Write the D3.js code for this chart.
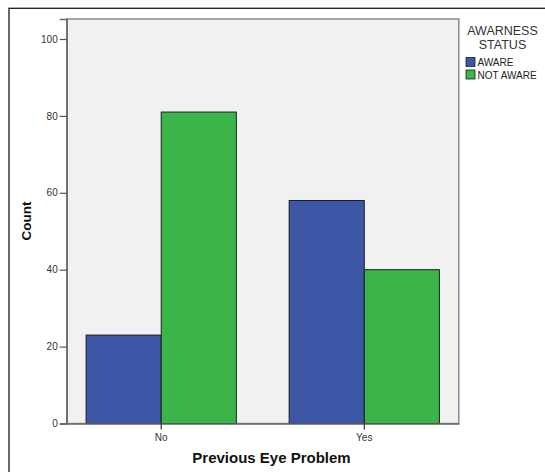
<!DOCTYPE html>
<html><head><meta charset="utf-8">
<script src="https://cdn.jsdelivr.net/npm/d3@7"></script>
<style>body{margin:0;background:#fff}svg{display:block;font-family:"Liberation Sans",Arial,sans-serif}</style>
</head><body><svg id="c" width="545" height="472"></svg>
<script>
const categories = ["No", "Yes"];
const seriesNames = ["AWARE", "NOT AWARE"];
const aware = [23, 58];
const notAware = [81, 40];
const yTicks = [0, 20, 40, 60, 80, 100];
const colors = ["#3d57a7", "#3bb54a"];

const svg = d3.select("#c");
const L = 66.7, R = 458.8, T = 19, B = 423.5;

svg.append("rect").attr("x", 9).attr("y", 8.3).attr("width", 600).attr("height", 600)
  .attr("fill", "none").attr("stroke", "#1a1a1a").attr("stroke-width", 1.3);

svg.append("rect").attr("x", L).attr("y", T).attr("width", R - L).attr("height", B - T)
  .attr("fill", "#f1f1f1").attr("stroke", "#8a8a8a").attr("stroke-width", 1.5);

const x0 = d3.scaleBand().domain(categories).range([L, R]).paddingInner(0.26).paddingOuter(0.0955);
const x1 = d3.scaleBand().domain(seriesNames).range([0, x0.bandwidth()]);
const y = d3.scaleLinear().domain([0, 105.2]).range([B, T]);

const data = categories.map((c, i) => ({cat: c, vals: [aware[i], notAware[i]]}));
const g = svg.append("g");
data.forEach(d => {
  d.vals.forEach((v, j) => {
    g.append("rect")
      .attr("x", x0(d.cat) + x1(seriesNames[j]))
      .attr("y", y(v))
      .attr("width", x1.bandwidth())
      .attr("height", y(0) - y(v))
      .attr("fill", colors[j]).attr("stroke", "#1e1e1e").attr("stroke-width", 1);
  });
});

const yAxis = svg.append("g").attr("transform", `translate(${L},0)`)
  .call(d3.axisLeft(y).tickValues(yTicks).tickSize(7).tickPadding(2));
yAxis.select(".domain").attr("stroke", "#6a6a6a").attr("stroke-width", 1.5);
yAxis.selectAll(".tick line").attr("stroke", "#555").attr("stroke-width", 1.2);
yAxis.selectAll("text").attr("font-size", 10).attr("fill", "#333").attr("font-family", "Liberation Sans, Arial");

const xAxis = svg.append("g").attr("transform", `translate(0,${B})`)
  .call(d3.axisBottom(x0).tickSize(6).tickPadding(4).tickSizeOuter(0));
xAxis.select(".domain").attr("stroke", "#6a6a6a").attr("stroke-width", 1.5);
xAxis.selectAll(".tick line").attr("stroke", "#333").attr("stroke-width", 1.2);
xAxis.selectAll("text").attr("font-size", 10).attr("fill", "#333").attr("font-family", "Liberation Sans, Arial");

svg.append("text").attr("x", 271.5).attr("y", 463).attr("text-anchor", "middle")
  .attr("font-size", 15).attr("font-weight", "bold").attr("fill", "#111").text("Previous Eye Problem");
svg.append("text").attr("transform", "translate(31,221) rotate(-90)").attr("text-anchor", "middle")
  .attr("font-size", 13.5).attr("font-weight", "bold").attr("fill", "#111").text("Count");

const lg = svg.append("g");
lg.append("text").attr("x", 502.5).attr("y", 35).attr("text-anchor", "middle").attr("font-size", 12.5).attr("fill", "#333").text("AWARNESS");
lg.append("text").attr("x", 502.5).attr("y", 48.5).attr("text-anchor", "middle").attr("font-size", 12.5).attr("fill", "#333").text("STATUS");
seriesNames.forEach((s, i) => {
  lg.append("rect").attr("x", 466).attr("y", 57.5 + i * 12.5).attr("width", 9).attr("height", 9)
    .attr("fill", colors[i]).attr("stroke", "#1e1e1e").attr("stroke-width", 0.8);
  lg.append("text").attr("x", 477.5).attr("y", 66 + i * 12.5).attr("font-size", 10).attr("fill", "#222").text(s);
});
</script></body></html>
